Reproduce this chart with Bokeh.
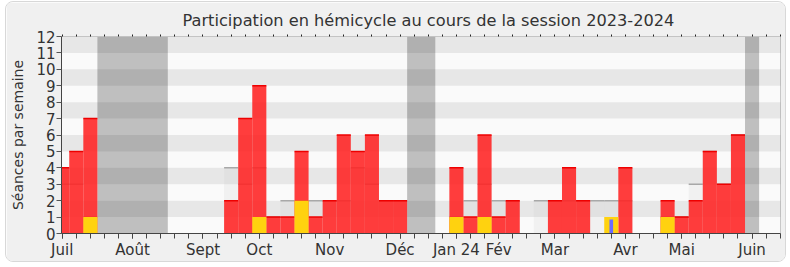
from bokeh.plotting import figure
from bokeh.models import FixedTicker, LinearAxis, Range1d
from bokeh.embed import file_html
from bokeh.resources import INLINE

# ---- data (one value per week, week 0 = first week of July 2023) ----
weeks = list(range(52))
presences = [4, 5, 7, 0, 0, 0, 0, 0, 0, 0, 0, 0, 2, 7, 9, 1, 1, 5, 1, 2, 6, 5, 6, 2, 2, 0,
             0, 0, 4, 1, 6, 1, 2, 0, 0, 2, 4, 2, 0, 0, 4, 0, 0, 2, 1, 2, 5, 3, 6, 0, 0, 0]
interventions = [0, 0, 1, 0, 0, 0, 0, 0, 0, 0, 0, 0, 0, 0, 1, 0, 0, 2, 0, 0, 0, 0, 0, 0, 0, 0,
                 0, 0, 1, 0, 1, 0, 0, 0, 0, 0, 0, 0, 0, 1, 0, 0, 0, 1, 0, 0, 0, 0, 0, 0, 0, 0]
questions = [0, 0, 0, 0, 0, 0, 0, 0, 0, 0, 0, 0, 0, 0, 0, 0, 0, 0, 0, 0, 0, 0, 0, 0, 0, 0,
             0, 0, 0, 0, 0, 0, 0, 0, 0, 0, 0, 0, 0, 0.85, 0, 0, 0, 0, 0, 0, 0, 0, 0, 0, 0, 0]
mediane = [3, 3, 1, 0, 0, 0, 0, 0, 0, 0, 0, 0, 4, 3, 4, 1, 2, 2, 2, 2, 2, 4, 3, 2, 2, 0,
           0, 0, 1, 2, 3, 2, 2, 0, 2, 2, 2, 2, 2, 2, 2, 0, 0, 1, 1, 3, 5, 3, 6, 0, 0, 0]
vac_start = [2.5, 24.5, 48.5]
vac_end = [7.5, 26.5, 49.5]
month_pos = [0, 5, 10, 14, 19, 24, 28, 31, 35, 40, 44, 49]
month_labels = ["Juil", "Août", "Sept", "Oct", "Nov", "Déc", "Jan 24", "Fév", "Mar", "Avr", "Mai", "Juin"]
y_max = 12

FONT = "DejaVu Sans"
TXT = "#333333"

p = figure(width=781, height=261, x_range=Range1d(-0.05, 51.02), y_range=Range1d(0, y_max),
           output_backend="svg", toolbar_location=None,
           min_border_left=55, min_border_right=7, min_border_top=34, min_border_bottom=30,
           background_fill_color="#fafafa", border_fill_color="#f0f0f0")
p.styles = {"margin-left": "5px", "margin-top": "1px", "border": "1px solid #d8d8d8",
            "border-radius": "8px", "overflow": "hidden"}

p.title.text = "Participation en hémicycle au cours de la session 2023-2024"
p.title.align = "left"
p.title.offset = 121
p.title.text_font = FONT
p.title.text_font_size = "16.2px"
p.title.text_font_style = "normal"
p.title.text_color = TXT

p.xgrid.visible = False
p.ygrid.visible = False
p.outline_line_color = "#c8c8c8"

# axes
p.yaxis.ticker = FixedTicker(ticks=list(range(y_max + 1)))
p.yaxis.axis_label = "Séances par semaine"
p.yaxis.axis_label_text_font = FONT
p.yaxis.axis_label_text_font_size = "14px"
p.yaxis.axis_label_text_font_style = "normal"
p.yaxis.axis_label_text_color = TXT
p.yaxis.axis_label_standoff = 7
p.yaxis.major_label_text_font = FONT
p.yaxis.major_label_text_font_size = "15px"
p.yaxis.major_label_text_color = TXT
p.yaxis.major_label_standoff = 1
p.yaxis.major_tick_out = 5
p.yaxis.major_tick_in = 0
p.yaxis.minor_tick_line_color = None
p.yaxis.axis_line_color = "#444444"
p.yaxis.major_tick_line_color = "#555555"

p.xaxis.ticker = FixedTicker(ticks=month_pos, minor_ticks=weeks)
p.xaxis.major_label_overrides = {pos: lab for pos, lab in zip(month_pos, month_labels)}
p.xaxis.major_label_text_font = FONT
p.xaxis.major_label_text_font_size = "15px"
p.xaxis.major_label_text_color = TXT
p.xaxis.major_label_standoff = 2
p.xaxis.major_tick_out = 5
p.xaxis.major_tick_in = 0
p.xaxis.minor_tick_out = 5
p.xaxis.minor_tick_in = 0
p.xaxis.axis_line_color = "#444444"
p.xaxis.major_tick_line_color = "#444444"
p.xaxis.minor_tick_line_color = "#444444"

top = LinearAxis(ticker=FixedTicker(ticks=[], minor_ticks=weeks),
                 major_label_text_font_size="0px", axis_line_color=None,
                 major_tick_line_color=None, minor_tick_out=2, minor_tick_in=0,
                 minor_tick_line_color="#222222", major_label_standoff=0)
p.add_layout(top, "above")

# vacations
p.quad(left=vac_start, right=vac_end, bottom=0, top=y_max, fill_color="#bfbfbf", line_color=None)
# alternating bands
band_b = list(range(1, y_max, 2))
band_t = [b + 1 for b in band_b]
p.quad(left=-1, right=53, bottom=band_b, top=band_t, fill_color="black", fill_alpha=0.075, line_color=None)

# median
mx = [w for w, m in zip(weeks, mediane) if m > 0]
mv = [m for m in mediane if m > 0]
p.quad(left=[w - 0.5 for w in mx], right=[w + 0.5 for w in mx], bottom=0, top=mv,
       fill_color="#c8c8c8", fill_alpha=0.18, line_color=None)
p.segment(x0=[w - 0.5 for w in mx], x1=[w + 0.5 for w in mx], y0=mv, y1=mv,
          line_color="#a8a8a8", line_width=1.5)

# presences
rx = [w for w, v in zip(weeks, presences) if v > 0]
rv = [v for v in presences if v > 0]
p.quad(left=[w - 0.5 for w in rx], right=[w + 0.5 for w in rx], bottom=0, top=rv,
       fill_color="#ff2222", fill_alpha=0.88, line_color=None)
p.segment(x0=[w - 0.5 for w in rx], x1=[w + 0.5 for w in rx], y0=rv, y1=rv,
          line_color="#ee0000", line_width=1.5)

# interventions
ix = [w for w, v in zip(weeks, interventions) if v > 0]
iv = [v for v in interventions if v > 0]
p.quad(left=[w - 0.5 for w in ix], right=[w + 0.5 for w in ix], bottom=0, top=iv,
       fill_color="#ffd20f", line_color=None)

# questions
qx = [w for w, v in zip(weeks, questions) if v > 0]
qv = [v for v in questions if v > 0]
p.quad(left=[w - 0.13 for w in qx], right=[w + 0.13 for w in qx], bottom=0, top=qv,
       fill_color="#6b6bff", line_color=None)

open("out.html", "w").write(file_html(p, INLINE))
